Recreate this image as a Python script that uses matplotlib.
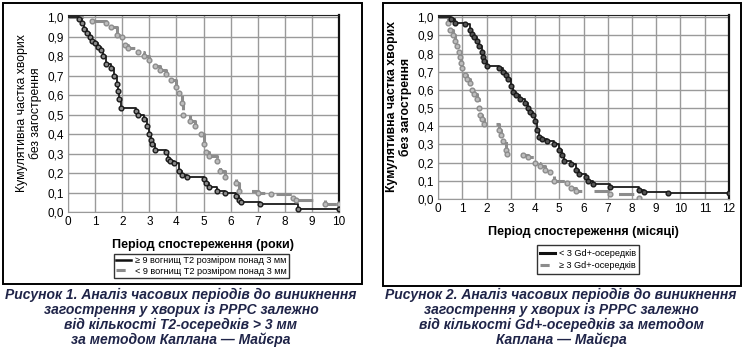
import matplotlib.pyplot as plt
from matplotlib.patches import Rectangle
import numpy as np

plt.rcParams['font.family'] = ['Liberation Sans', 'DejaVu Sans']

# Рисунок 1 (роки)
t1_hi = [0, 0.4, 0.5, 0.6, 0.7, 0.8, 0.9, 1.0, 1.1, 1.2, 1.3, 1.4, 1.6, 1.7, 1.8, 1.85, 1.9, 1.95,
         2.5, 2.6, 2.8, 2.9, 3.0, 3.05, 3.1, 3.2, 3.6, 3.7, 3.75, 3.9, 4.1, 4.2, 4.4, 5.0, 5.1, 5.2,
         5.5, 5.8, 6.2, 6.3, 6.4, 7.1, 8.5, 10]
s1_hi = [1.0, 0.99, 0.97, 0.94, 0.92, 0.90, 0.88, 0.87, 0.85, 0.83, 0.80, 0.76, 0.74, 0.70, 0.66, 0.62, 0.58, 0.535,
         0.52, 0.50, 0.48, 0.44, 0.40, 0.37, 0.35, 0.32, 0.31, 0.27, 0.26, 0.25, 0.21, 0.19, 0.18, 0.17, 0.15, 0.13,
         0.11, 0.10, 0.08, 0.06, 0.05, 0.04, 0.015, 0.015]
t1_lo = [0, 0.9, 1.4, 1.6, 1.8, 2.0, 2.1, 2.2, 2.6, 2.8, 3.0, 3.2, 3.4, 3.6, 3.8, 4.0, 4.1, 4.2, 4.25,
         4.5, 4.7, 4.9, 5.0, 5.1, 5.2, 5.5, 5.6, 5.8, 6.2, 6.3, 7.0, 7.5, 8.3, 8.4, 9.5, 10]
s1_lo = [1.0, 0.98, 0.97, 0.95, 0.91, 0.90, 0.86, 0.84, 0.82, 0.80, 0.78, 0.75, 0.73, 0.71, 0.68, 0.64, 0.61, 0.56, 0.50,
         0.47, 0.44, 0.40, 0.35, 0.31, 0.29, 0.26, 0.21, 0.18, 0.15, 0.11, 0.10, 0.09, 0.07, 0.06, 0.04, 0.04]

# Рисунок 2 (місяці)
t2_lo = [0, 0.55, 0.7, 1.1, 1.3, 1.4, 1.5, 1.6, 1.7, 1.8, 1.85, 1.9, 2.0, 2.5, 2.7, 2.8, 2.9, 3.0, 3.1, 3.2,
         3.4, 3.6, 3.7, 3.8, 3.9, 4.0, 4.1, 4.15, 4.3, 4.5, 4.8, 5.0, 5.1, 5.2, 5.5, 5.7, 5.8, 6.1, 6.2, 6.4,
         7.1, 8.3, 8.5, 9.5, 12]
s2_lo = [1.0, 0.99, 0.97, 0.96, 0.93, 0.91, 0.89, 0.87, 0.84, 0.81, 0.78, 0.76, 0.73, 0.72, 0.70, 0.68, 0.66, 0.62, 0.59, 0.57,
         0.55, 0.53, 0.50, 0.48, 0.46, 0.43, 0.38, 0.34, 0.33, 0.32, 0.30, 0.27, 0.24, 0.21, 0.19, 0.16, 0.14, 0.12, 0.10, 0.08,
         0.065, 0.05, 0.04, 0.035, 0.035]
t2_hi = [0, 0.4, 0.5, 0.6, 0.7, 0.8, 0.85, 0.9, 0.95, 1.0, 1.1, 1.2, 1.3, 1.4, 1.5, 1.6, 1.7, 1.75, 1.8, 1.9,
         2.5, 2.6, 2.7, 2.8, 2.85, 3.5, 3.7, 4.0, 4.2, 4.4, 4.6, 4.8, 5.3, 5.5, 5.7, 7.1, 8.3]
s2_hi = [1.0, 0.97, 0.93, 0.90, 0.87, 0.84, 0.81, 0.78, 0.75, 0.72, 0.68, 0.66, 0.64, 0.60, 0.58, 0.55, 0.50, 0.46, 0.44, 0.41,
         0.38, 0.35, 0.32, 0.27, 0.25, 0.24, 0.23, 0.20, 0.18, 0.16, 0.15, 0.10, 0.09, 0.06, 0.045, 0.03, 0.005]

caption1 = ["Рисунок 1. Аналіз часових періодів до виникнення",
            "загострення у хворих із РРРС залежно",
            "від кількості Т2-осередків > 3 мм",
            "за методом Каплана — Майєра"]
caption2 = ["Рисунок 2. Аналіз часових періодів до виникнення",
            "загострення у хворих із РРРС залежно",
            "від кількості Gd+-осередків за методом",
            "Каплана — Майєра"]

W, H = 747, 351
fig = plt.figure(figsize=(W / 100, H / 100), dpi=100)


def frac(x0, y0, x1, y1):
    return [x0 / W, 1 - y1 / H, (x1 - x0) / W, (y1 - y0) / H]


def km(ax, t, s, color, dashed, mfc, end=None):
    tt, ss = list(t), list(s)
    if end is not None:
        tt.append(end)
        ss.append(ss[-1])
    if dashed:
        ax.step(tt, ss, where='post', color=color, lw=2.2, dashes=(5, 4), zorder=3)
    else:
        ax.step(tt, ss, where='post', color=color, lw=1.3, zorder=4)
    ax.plot(t[1:], s[1:], 'o', ms=3.4, mec=color, mfc=mfc, mew=1.0, zorder=5)


def style(ax, xmax, ylabel_bold):
    ax.set_xlim(0, xmax)
    ax.set_ylim(0, 1.012)
    ax.set_xticks(range(0, xmax + 1))
    ax.set_yticks(np.arange(0, 1.01, 0.1))
    ax.set_yticklabels([f"{v:.1f}".replace('.', ',') for v in np.arange(0, 1.01, 0.1)])
    ax.grid(True, color='#9a9a9a', lw=1)
    ax.set_axisbelow(True)
    ax.tick_params(length=0, labelsize=8.5, pad=3)
    for sp in ['left', 'bottom']:
        ax.spines[sp].set_color('#9a9a9a')
    ax.spines['top'].set_color('#222222')
    ax.spines['right'].set_color('#111111')
    ax.spines['right'].set_linewidth(1.6)
    ax.set_ylabel("Кумулятивна частка хворих\nбез загострення", fontsize=8.8,
                  fontweight='bold' if ylabel_bold else 'normal', linespacing=1.1, labelpad=4)


# ---- панель 1
ax1 = fig.add_axes(frac(68, 15, 339, 212))
km(ax1, t1_lo, s1_lo, '#8c8c8c', True, '#bdbdbd')
km(ax1, t1_hi, s1_hi, '#1a1a1a', False, '#8a8a8a')
style(ax1, 10, False)
ax1.set_xlabel("Період спостереження (роки)", fontsize=9, fontweight='bold', labelpad=8)
h1 = [plt.Line2D([], [], color='#111111', lw=1.8),
      plt.Line2D([], [], color='#8c8c8c', lw=2.2, dashes=(3, 2))]
leg1 = ax1.legend(h1, ["≥ 9 вогнищ Т2 розміром понад 3 мм", "< 9 вогнищ Т2 розміром понад 3 мм"],
                  loc='center', bbox_to_anchor=((201.5 - 68) / 271, -(266 - 212) / 197), fontsize=6.6,
                  frameon=True, fancybox=False, edgecolor='black', handlelength=1.6, handletextpad=0.4,
                  borderpad=0.3, labelspacing=0.15)
leg1.get_frame().set_linewidth(1)

# ---- панель 2
ax2 = fig.add_axes(frac(438, 15, 729, 199))
km(ax2, t2_hi, s2_hi, '#8c8c8c', True, '#bdbdbd')
km(ax2, t2_lo, s2_lo, '#1a1a1a', False, '#555555', end=12)
style(ax2, 12, True)
ax2.set_xlabel("Період спостереження (місяці)", fontsize=9, fontweight='bold', labelpad=8)
h2 = [plt.Line2D([], [], color='#111111', lw=2.2),
      plt.Line2D([], [], color='#8c8c8c', lw=2.2, dashes=(3, 2))]
leg2 = ax2.legend(h2, ["< 3 Gd+-осередків", "≥ 3 Gd+-осередків"],
                  loc='center', bbox_to_anchor=((588 - 438) / 291, -(259.5 - 199) / 184), fontsize=6.6,
                  frameon=True, fancybox=False, edgecolor='black', handlelength=1.6, handletextpad=0.4,
                  borderpad=0.4, labelspacing=0.3)
leg2.get_frame().set_linewidth(1)

# рамки
for x0, y0, x1, y1 in [(3, 3, 362, 284), (383, 3, 741, 286)]:
    fig.patches.append(Rectangle((x0 / W, 1 - y1 / H), (x1 - x0) / W, (y1 - y0) / H,
                                 transform=fig.transFigure, fill=False, ec='black', lw=1.4))

# підписи
for cx, lines in [(181, caption1), (561, caption2)]:
    for i, line in enumerate(lines):
        fig.text(cx / W, 1 - (294.5 + i * 15) / H, line, ha='center', va='center', fontsize=10,
                 fontweight='bold', fontstyle='italic', color='#1f2448')

fig.savefig('out.png', dpi=100)
